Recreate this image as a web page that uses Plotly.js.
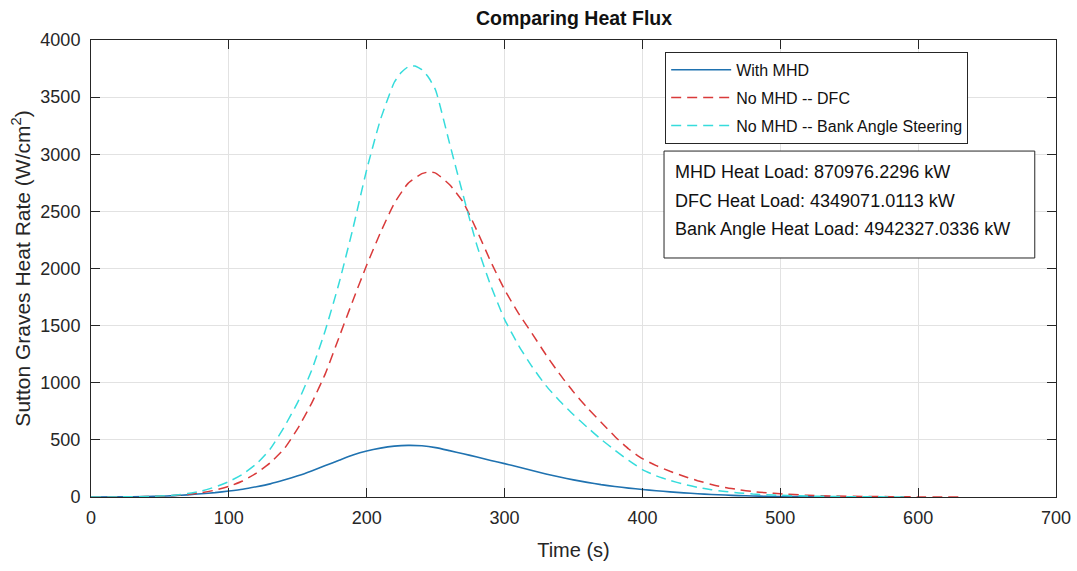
<!DOCTYPE html>
<html>
<head>
<meta charset="utf-8">
<script src="https://cdn.plot.ly/plotly-3.0.1.min.js"></script>
<style>html,body{margin:0;padding:0;background:#fff;}#chart{width:1077px;height:571px;}</style>
</head>
<body>
<div id="chart"></div>
<script>
// Time (s) and heat rate (W/cm^2)
const mhdTime = [0,20,40,50,60,70,80,90,100,110,120,130,140,150,160,170,180,190,200,210,220,230,240,250,260,270,280,290,300,310,320,330,340,350,360,370,380,390,400,410,420,430,440,450,460,470,480,490,500,520,540];
const mhdRate = [0,1,4,7,12,19,28,38,52,68,90,115,148,185,228,275,322,368,403,428,445,452,448,432,406,378,350,320,292,262,232,202,175,150,128,108,92,78,66,55,45,36,29,22,17,12,9,6,4,2,0];

const dfcTime = [0,20,40,50,60,70,80,90,100,110,120,130,140,150,160,170,180,190,200,210,220,230,240,245,250,260,270,280,290,300,310,320,330,340,350,360,370,380,390,400,410,420,430,440,450,460,470,480,490,500,520,540,560,580,600,631];
const dfcRate = [0,1,4,7,13,22,38,60,93,140,210,300,420,600,820,1080,1400,1720,2030,2315,2570,2745,2830,2845,2835,2735,2580,2330,2060,1815,1610,1430,1245,1075,920,780,655,530,420,335,275,225,182,143,110,84,64,48,37,28,15,8,5,3,1,0];

const bankTime = [0,20,30,40,50,60,70,80,90,100,110,120,130,140,150,160,170,180,190,200,210,220,225,230,235,240,245,250,260,270,280,290,300,310,320,330,340,350,360,370,380,390,400,410,420,430,440,450,460,470,480,490,500,520,540,560,590];
const bankRate = [0,1,2,4,8,15,30,52,88,135,200,290,420,610,830,1107,1460,1875,2350,2865,3305,3630,3715,3765,3772,3740,3670,3560,3100,2640,2200,1850,1555,1330,1140,975,840,720,610,505,410,320,240,185,145,112,85,64,48,36,26,20,15,8,4,2,0];

const seriesNames = ["With MHD", "No MHD -- DFC", "No MHD -- Bank Angle Steering"];
const loadLabels = ["MHD Heat Load: 870976.2296 kW", "DFC Heat Load: 4349071.0113 kW", "Bank Angle Heat Load: 4942327.0336 kW"];
const xTicks = [0,100,200,300,400,500,600,700];
const yTicks = [0,500,1000,1500,2000,2500,3000,3500,4000];

const font = "Liberation Sans, Arial, sans-serif";
const axisColor = "#262626";

const traces = [
  {x: mhdTime, y: mhdRate, name: seriesNames[0], mode: "lines", legendgroup: "a",
   line: {color: "#1f72b0", width: 1.6, shape: "spline", smoothing: 0.5}},
  {x: dfcTime, y: dfcRate, name: seriesNames[1], mode: "lines", legendgroup: "b",
   line: {color: "#d93a3a", width: 1.5, dash: "10px,6px", shape: "spline", smoothing: 0.5}},
  {x: bankTime, y: bankRate, name: seriesNames[2], mode: "lines", legendgroup: "c",
   line: {color: "#36dcdc", width: 1.5, dash: "10px,6px", shape: "spline", smoothing: 0.5}}
];

const annY = [0.711, 0.648, 0.586];
const annotations = loadLabels.map((t, i) => ({
  text: t, xref: "paper", yref: "paper", x: 0.603, y: annY[i],
  xanchor: "left", yanchor: "middle", showarrow: false, align: "left",
  font: {family: font, size: 18, color: "#111"}
}));

const layout = {
  width: 1077, height: 571,
  margin: {l: 91, r: 21, t: 40, b: 74},
  paper_bgcolor: "#fff", plot_bgcolor: "#fff",
  title: {text: "<b>Comparing Heat Flux</b>", x: 0.533, xanchor: "center", y: 0.968, yanchor: "middle",
          font: {family: font, size: 19.5, color: "#111"}},
  xaxis: {range: [0, 700], tickvals: xTicks, ticks: "inside", ticklen: 9, tickcolor: axisColor,
          showline: true, linecolor: axisColor, linewidth: 1, mirror: "ticks",
          showgrid: true, gridcolor: "#e2e2e2", zeroline: false, ticklabelstandoff: 4,
          tickfont: {family: font, size: 18, color: axisColor},
          title: {text: "Time (s)", font: {family: font, size: 20, color: axisColor}, standoff: 16}},
  yaxis: {range: [0, 4000], tickvals: yTicks, ticks: "inside", ticklen: 9, tickcolor: axisColor,
          showline: true, linecolor: axisColor, linewidth: 1, mirror: "ticks",
          showgrid: true, gridcolor: "#e2e2e2", zeroline: false, ticklabelstandoff: 6,
          tickfont: {family: font, size: 18, color: axisColor},
          title: {text: "Sutton Graves Heat Rate (W/cm<sup>2</sup>)", font: {family: font, size: 21, color: axisColor}, standoff: 4}},
  legend: {x: 0.595, y: 0.974, xanchor: "left", yanchor: "top", bgcolor: "#fff",
           bordercolor: "#262626", borderwidth: 1, traceorder: "grouped", tracegroupgap: 4,
           itemwidth: 60, font: {family: font, size: 16, color: "#111"}},
  shapes: [{type: "rect", xref: "paper", yref: "paper", x0: 0.5938, x1: 0.978, y0: 0.523, y1: 0.757,
            line: {color: "#262626", width: 1}, fillcolor: "#fff", layer: "above"}],
  annotations: annotations,
  showlegend: true
};

Plotly.newPlot("chart", traces, layout, {displayModeBar: false, staticPlot: true});
</script>
</body>
</html>
